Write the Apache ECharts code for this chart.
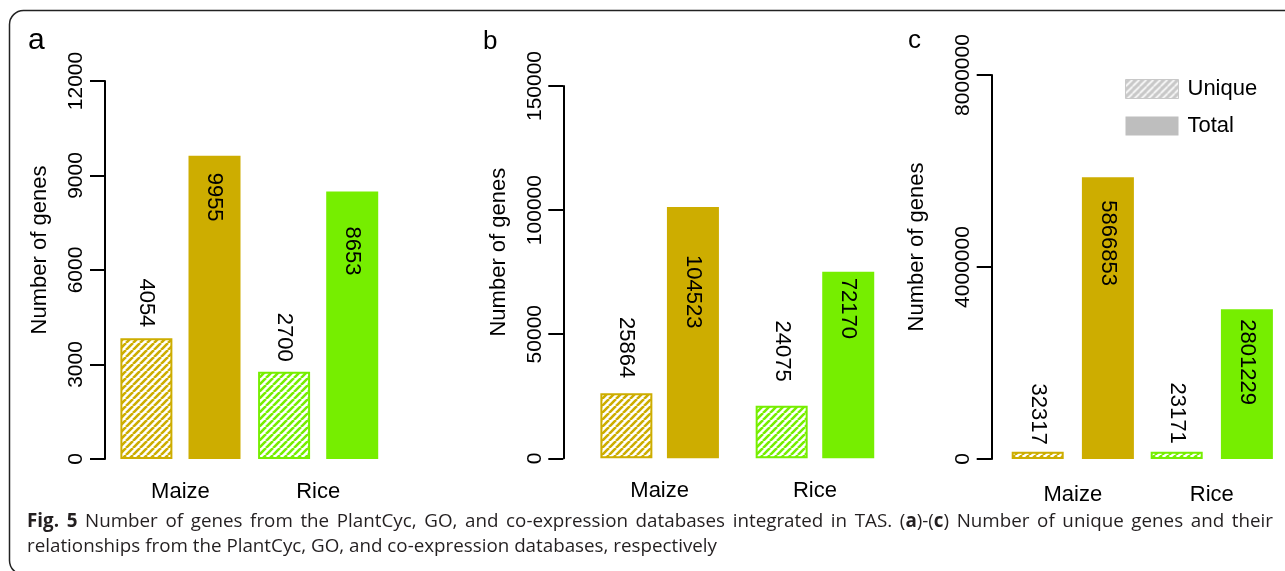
<!DOCTYPE html>
<html>
<head>
<meta charset="utf-8">
<script src="https://cdn.jsdelivr.net/npm/echarts@6/dist/echarts.min.js"></script>
<style>
  html, body { margin: 0; padding: 0; background: #fff; }
  #main { width: 1285px; height: 571px; }
</style>
</head>
<body>
<div id="main"></div>
<script>
// data
var categories = ['Maize', 'Rice'];

// (a) PlantCyc
var ticksA = [0, 3000, 6000, 9000, 12000];
var uniqueA = [3830, 2770];
var totalA = [9630, 8490];
var uniqueLabelA = ['4054', '2700'];
var totalLabelA = ['9955', '8653'];

// (b) GO
var ticksB = [0, 50000, 100000, 150000];
var uniqueB = [26190, 21200];
var totalB = [101250, 75180];
var uniqueLabelB = ['25864', '24075'];
var totalLabelB = ['104523', '72170'];

// (c) co-expression
var ticksC = [0, 4000000, 8000000];
var uniqueC = [152000, 152000];
var totalC = [5869000, 3119000];
var uniqueLabelC = ['32317', '23171'];
var totalLabelC = ['5866853', '2801229'];

var caption1 = '**Fig. 5** Number of genes from the PlantCyc, GO, and co-expression databases integrated in TAS. (**a**)-(**c**) Number of unique genes and their';
var caption2 = 'relationships from the PlantCyc, GO, and co-expression databases, respectively';

// layout / style
var gold = '#CDAD00', green = '#76EE00';
var FONT = 'Liberation Sans';
var CAPFONT = 'Open Sans';

var panels = [
    {letter: 'a', lx: 28, ly: 40.6, lsize: 30, grid: {left: 111.6, top: 81, width: 275.4, height: 378}, offset: 6.6, gap: '31%', nameGap: 54.5, catMargin: 22,
        ticks: ticksA, unique: uniqueA, total: totalA, uLab: uniqueLabelA, tLab: totalLabelA, uDist: [11, 10], tDist: [17, 35]},
    {letter: 'b', lx: 483, ly: 42, lsize: 26, grid: {left: 582, top: 86, width: 310.6, height: 372.3}, offset: 18.7, gap: '28%', nameGap: 53.5, catMargin: 22,
        ticks: ticksB, unique: uniqueB, total: totalB, uLab: uniqueLabelB, tLab: totalLabelB, uDist: [15, 24], tDist: [48, 6]},
    {letter: 'c', lx: 908, ly: 41, lsize: 26, grid: {left: 1003.3, top: 75, width: 278, height: 384}, offset: 11.6, gap: '35%', nameGap: 63.5, catMargin: 25,
        ticks: ticksC, unique: uniqueC, total: totalC, uLab: uniqueLabelC, tLab: totalLabelC, uDist: [7, 8], tDist: [23, 10]}
];

function hatch(color, bg, w) {
    var c = document.createElement('canvas');
    c.width = c.height = 7;
    var g = c.getContext('2d');
    g.fillStyle = bg;
    g.fillRect(0, 0, 7, 7);
    g.strokeStyle = color;
    g.lineWidth = w;
    g.beginPath();
    for (var k = -7; k <= 7; k += 7) {
        g.moveTo(k, 7);
        g.lineTo(k + 7, 0);
    }
    g.stroke();
    return {image: c, repeat: 'repeat'};
}

var barColors = [gold, green];
var hatchFills = [hatch(gold, '#fff', 2.6), hatch(green, '#fff', 2.6)];
var legendHatch = hatch('#fff', '#C8C8C8', 1.6);

var myChart = echarts.init(document.getElementById('main'));

var grids = [], xAxes = [], yAxes = [], series = [], graphics = [];

panels.forEach(function (p, i) {
    grids.push(p.grid);
    xAxes.push({
        type: 'category', gridIndex: i, data: categories,
        axisLine: {show: false}, axisTick: {show: false},
        axisLabel: {fontFamily: FONT, fontSize: 22, color: '#000', margin: p.catMargin}
    });
    var n = p.ticks.length;
    yAxes.push({
        type: 'value', gridIndex: i, min: p.ticks[0], max: p.ticks[n - 1],
        interval: p.ticks[1] - p.ticks[0], offset: p.offset,
        name: 'Number of genes', nameLocation: 'middle', nameGap: p.nameGap,
        nameTextStyle: {fontFamily: FONT, fontSize: 22, color: '#000', padding: [0, 0, 0, 40]},
        axisLine: {show: true, lineStyle: {color: '#000', width: 2}},
        axisTick: {show: true, length: 15, lineStyle: {color: '#000', width: 2}},
        splitLine: {show: false},
        axisLabel: {rotate: 90, fontFamily: FONT, fontSize: 21, color: '#000', margin: 18,
            formatter: function (v) { return String(v); }}
    });
    series.push({
        name: 'Unique', type: 'bar', xAxisIndex: i, yAxisIndex: i,
        barWidth: 52, barGap: p.gap,
        data: p.unique.map(function (v, j) {
            return {value: v, itemStyle: {color: hatchFills[j], borderColor: barColors[j], borderWidth: 2},
                label: {distance: p.uDist[j]}};
        }),
        label: {
            show: true, position: 'top', rotate: -90, align: 'right', verticalAlign: 'middle',
            fontFamily: FONT, fontSize: 22, color: '#000',
            formatter: function (d) { return p.uLab[d.dataIndex]; }
        }
    });
    series.push({
        name: 'Total', type: 'bar', xAxisIndex: i, yAxisIndex: i,
        barWidth: 52, barGap: p.gap,
        data: p.total.map(function (v, j) {
            return {value: v, itemStyle: {color: barColors[j]}, label: {distance: p.tDist[j]}};
        }),
        label: {
            show: true, position: 'insideTop', rotate: -90, align: 'left', verticalAlign: 'middle',
            fontFamily: FONT, fontSize: 22, color: '#000',
            formatter: function (d) { return p.tLab[d.dataIndex]; }
        }
    });
    graphics.push({
        type: 'text', x: p.lx, y: p.ly,
        style: {text: p.letter, font: p.lsize + 'px "' + FONT + '"', fill: '#000', verticalAlign: 'middle'}
    });
});

// frame
graphics.push({
    type: 'rect', shape: {x: 9.5, y: 10.5, width: 1320, height: 564, r: 14},
    style: {fill: 'none', stroke: '#222', lineWidth: 1.5}, silent: true
});

// caption: size picked so the second line spans what it does in the figure
var ctx = document.createElement('canvas').getContext('2d');
var CAPSIZE = 16;
ctx.font = CAPSIZE + 'px "' + CAPFONT + '"';
CAPSIZE = Math.round(CAPSIZE * 690 / ctx.measureText(caption2).width * 10) / 10;

function capFont(bold) { return (bold ? 'bold ' : '') + CAPSIZE + 'px "' + CAPFONT + '"'; }
function parseWord(w) {
    var parts = w.split('**'), out = [];
    parts.forEach(function (t, k) { if (t) out.push({t: t, b: k % 2 === 1}); });
    return out;
}
function wordWidth(parts) {
    var s = 0;
    parts.forEach(function (q) { ctx.font = capFont(q.b); s += ctx.measureText(q.t).width; });
    return s;
}
function richText(parts) {
    return parts.map(function (q) { return '{' + (q.b ? 'b' : 'r') + '|' + q.t + '}'; }).join('');
}
var rich = {
    r: {fontFamily: CAPFONT, fontSize: CAPSIZE, fill: '#231F20'},
    b: {fontFamily: CAPFONT, fontSize: CAPSIZE, fontWeight: 'bold', fill: '#231F20'}
};
// first line is justified between the margins
var words = caption1.replace('**Fig. 5**', '**Fig.** **5**').split(' ').map(parseWord);
var widths = words.map(wordWidth);
var x0 = 27, x1 = 1273;
var used = widths.reduce(function (a, b) { return a + b; }, 0);
var space = (x1 - x0 - used) / (words.length - 1);
var cx = x0;
words.forEach(function (w, k) {
    graphics.push({
        type: 'text', x: cx, y: 522,
        style: {text: richText(w), rich: rich, verticalAlign: 'middle', fill: '#231F20', font: capFont(false)}
    });
    cx += widths[k] + space;
});
graphics.push({
    type: 'text', x: x0, y: 547,
    style: {text: caption2, font: capFont(false), fill: '#231F20', verticalAlign: 'middle'}
});

var option = {
    animation: false,
    backgroundColor: '#fff',
    grid: grids,
    xAxis: xAxes,
    yAxis: yAxes,
    legend: {
        orient: 'vertical', left: 1120, top: 73,
        itemWidth: 53, itemHeight: 19, itemGap: 15, selectedMode: false,
        textStyle: {fontFamily: FONT, fontSize: 22, color: '#000', padding: [0, 0, 0, 4]},
        data: [
            {name: 'Unique', icon: 'rect', itemStyle: {color: legendHatch, borderColor: '#C8C8C8', borderWidth: 1}},
            {name: 'Total', icon: 'rect', itemStyle: {color: '#BEBEBE', borderWidth: 0}}
        ]
    },
    series: series,
    graphic: graphics
};
myChart.setOption(option);
window.onresize = myChart.resize;
</script>
</body>
</html>
